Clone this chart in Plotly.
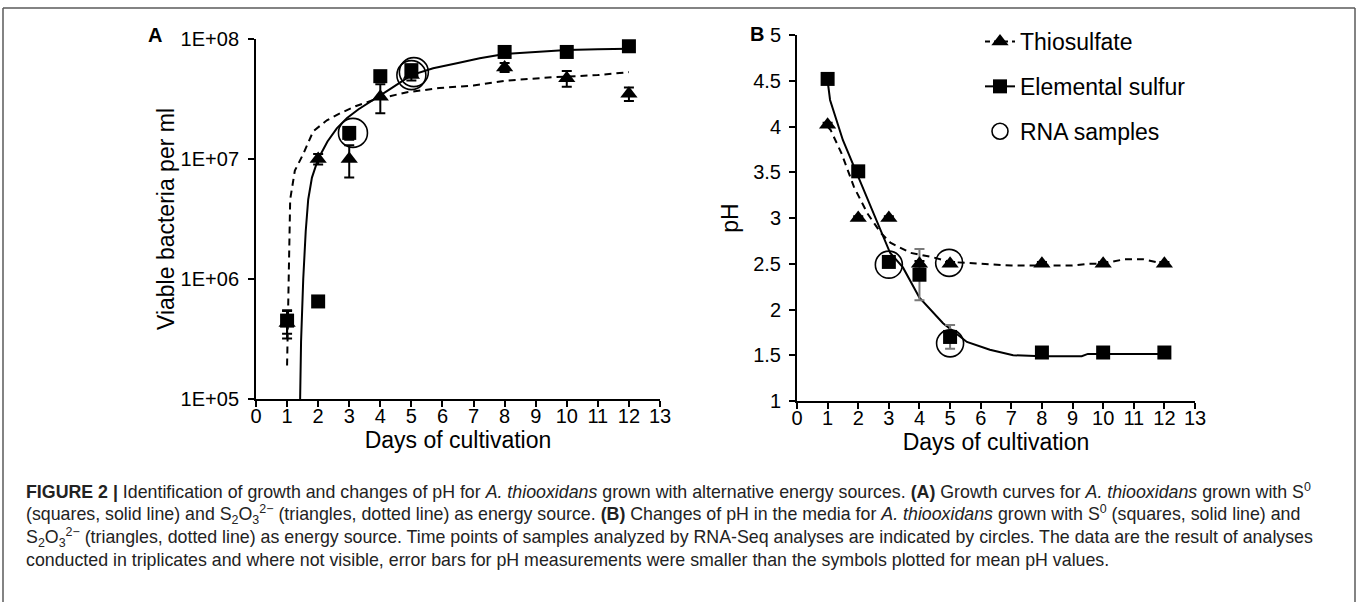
import plotly.graph_objects as go

# ---------------- data ----------------
days = [1, 2, 3, 4, 5, 8, 10, 12]

# Panel A: viable bacteria per ml
sulfur_cells = [4.5e5, 6.5e5, 1.65e7, 4.9e7, 5.5e7, 7.8e7, 7.8e7, 8.7e7]
sulfur_cells_err = [1.0e5, 0.6e5, 2.0e6, 3.0e6, 3.0e6, 3.0e6, 3.0e6, 3.0e6]
thio_cells = [4.3e5, 1.0e7, 1.0e7, 3.3e7, 5.0e7, 5.8e7, 4.7e7, 3.5e7]
thio_cells_err = [1.1e5, 1.0e6, 3.0e6, 9.0e6, 5.0e6, 5.0e6, 7.0e6, 4.5e6]

# trend curves
sulfur_fit_x = [1.42, 1.45, 1.52, 1.6, 1.68, 1.8, 2.0, 2.3, 2.6, 2.93, 3.3, 3.77, 4.3, 5.0,
                5.7, 6.5, 7.2, 8.0, 9.0, 10.0, 11.0, 12.0]
sulfur_fit_y = [1.0e5, 3.0e5, 1.0e6, 2.5e6, 4.6e6, 7.0e6, 1.0e7, 1.4e7, 1.8e7, 2.2e7, 2.6e7,
                3.1e7, 3.8e7, 5.0e7, 5.7e7, 6.3e7, 6.9e7, 7.5e7, 7.8e7, 8.1e7, 8.2e7, 8.3e7]
thio_fit_x = [1.0, 1.03, 1.06, 1.1, 1.25, 1.52, 1.84, 2.28, 2.7, 3.2, 3.77, 4.3, 4.86, 5.9,
              7.0, 8.07, 9.55, 11.0, 12.0]
thio_fit_y = [1.9e5, 5.0e5, 1.5e6, 4.6e6, 8.0e6, 1.1e7, 1.7e7, 2.1e7, 2.4e7, 2.75e7, 3.1e7,
              3.35e7, 3.6e7, 3.9e7, 4.1e7, 4.5e7, 4.8e7, 5.0e7, 5.3e7]

# RNA sample circles, panel A
rna_a_x = [3.12, 5.0, 5.08]
rna_a_y = [1.65e7, 5.0e7, 5.3e7]

# Panel B: pH
sulfur_ph = [4.52, 3.51, 2.52, 2.38, 1.70, 1.53, 1.53, 1.53]
sulfur_ph_err = [0.03, 0.03, 0.03, 0.28, 0.13, 0.02, 0.02, 0.02]
thio_ph = [4.02, 3.0, 3.0, 2.5, 2.5, 2.5, 2.5, 2.5]
thio_ph_err = [0.02, 0.02, 0.02, 0.03, 0.02, 0.02, 0.02, 0.02]

sulfur_ph_fit_x = [1.0, 1.08, 1.5, 2.06, 2.6, 3.04, 3.46, 4.0, 4.77, 5.55, 6.3, 7.06, 8.0,
                   9.3, 9.5, 10.0, 11.0, 12.0]
sulfur_ph_fit_y = [4.5, 4.29, 3.85, 3.41, 2.98, 2.62, 2.46, 2.13, 1.85, 1.645, 1.56, 1.50,
                   1.49, 1.49, 1.515, 1.515, 1.515, 1.515]
thio_ph_fit_x = [1.0, 1.1, 1.45, 1.86, 2.3, 2.73, 3.05, 3.7, 4.45, 5.0, 6.0, 7.0, 8.0, 9.0,
                 9.5, 10.0, 10.7, 11.3, 12.0]
thio_ph_fit_y = [4.0, 3.96, 3.71, 3.34, 3.05, 2.84, 2.73, 2.62, 2.57, 2.52, 2.5, 2.48, 2.48,
                 2.48, 2.5, 2.5, 2.55, 2.55, 2.5]

rna_b_x = [3.0, 4.97, 5.0]
rna_b_y = [2.49, 2.51, 1.63]

legend_names = ["Thiosulfate", "Elemental sulfur", "RNA samples"]

x_ticks = list(range(0, 14))
a_tickvals = [1e5, 1e6, 1e7, 1e8]
a_ticktext = ["1E+05", "1E+06", "1E+07", "1E+08"]
b_tickvals = [1, 1.5, 2, 2.5, 3, 3.5, 4, 4.5, 5]
b_ticktext = ["1", "1.5", "2", "2.5", "3", "3.5", "4", "4.5", "5"]

caption_lines = [
    "<b>FIGURE 2 |</b> Identification of growth and changes of pH for <i>A. thiooxidans</i> grown with "
    "alternative energy sources. <b>(A)</b> Growth curves for <i>A. thiooxidans</i> grown with S<sup>0</sup>",
    "(squares, solid line) and S<sub>2</sub>O<sub>3</sub><sup>2\u2212</sup> (triangles, dotted line) as energy "
    "source. <b>(B)</b> Changes of pH in the media for <i>A. thiooxidans</i> grown with S<sup>0</sup> "
    "(squares, solid line) and",
    "S<sub>2</sub>O<sub>3</sub><sup>2\u2212</sup> (triangles, dotted line) as energy source. Time points of "
    "samples analyzed by RNA-Seq analyses are indicated by circles. The data are the result of analyses",
    "conducted in triplicates and where not visible, error bars for pH measurements were smaller than "
    "the symbols plotted for mean pH values.",
]

# ---------------- figure ----------------
W, H = 1358, 602
FONT = "Liberation Sans, Arial, Helvetica, sans-serif"
BLACK = "#000000"
DASH = "7px,5px"

fig = go.Figure()

# ---- panel A ----
fig.add_trace(go.Scatter(x=thio_fit_x, y=thio_fit_y, mode="lines", xaxis="x", yaxis="y",
                         line=dict(color=BLACK, width=2, dash=DASH), showlegend=False,
                         hoverinfo="skip"))
fig.add_trace(go.Scatter(x=sulfur_fit_x, y=sulfur_fit_y, mode="lines", xaxis="x", yaxis="y",
                         line=dict(color=BLACK, width=2), showlegend=False, hoverinfo="skip"))
fig.add_trace(go.Scatter(x=days, y=thio_cells, mode="markers", xaxis="x", yaxis="y",
                         marker=dict(symbol="triangle-up", size=15, color=BLACK),
                         error_y=dict(type="data", array=thio_cells_err, color=BLACK,
                                      thickness=2, width=5),
                         showlegend=False))
fig.add_trace(go.Scatter(x=days, y=sulfur_cells, mode="markers", xaxis="x", yaxis="y",
                         marker=dict(symbol="square", size=14, color=BLACK),
                         error_y=dict(type="data", array=sulfur_cells_err, color=BLACK,
                                      thickness=2, width=5),
                         showlegend=False))
fig.add_trace(go.Scatter(x=rna_a_x, y=rna_a_y, mode="markers", xaxis="x", yaxis="y",
                         marker=dict(symbol="circle-open", size=29, color=BLACK,
                                     line=dict(width=1.6, color=BLACK)),
                         showlegend=False))

# ---- panel B ----
fig.add_trace(go.Scatter(x=thio_ph_fit_x, y=thio_ph_fit_y, mode="lines",
                         xaxis="x2", yaxis="y2", line=dict(color=BLACK, width=2, dash=DASH),
                         showlegend=False, hoverinfo="skip"))
fig.add_trace(go.Scatter(x=sulfur_ph_fit_x, y=sulfur_ph_fit_y, mode="lines",
                         xaxis="x2", yaxis="y2", line=dict(color=BLACK, width=2),
                         showlegend=False, hoverinfo="skip"))
fig.add_trace(go.Scatter(x=days, y=sulfur_ph, mode="markers", xaxis="x2", yaxis="y2",
                         marker=dict(symbol="square", size=14, color=BLACK),
                         error_y=dict(type="data", array=sulfur_ph_err, color="#7a7a7a",
                                      thickness=2, width=5),
                         showlegend=False))
fig.add_trace(go.Scatter(x=days, y=thio_ph, mode="markers", xaxis="x2", yaxis="y2",
                         marker=dict(symbol="triangle-up", size=15, color=BLACK),
                         error_y=dict(type="data", array=thio_ph_err, color=BLACK,
                                      thickness=2, width=5),
                         showlegend=False))
fig.add_trace(go.Scatter(x=rna_b_x, y=rna_b_y, mode="markers", xaxis="x2", yaxis="y2",
                         marker=dict(symbol="circle-open", size=27, color=BLACK,
                                     line=dict(width=1.6, color=BLACK)),
                         showlegend=False))

# ---- legend entries (no data drawn) ----
fig.add_trace(go.Scatter(x=[None], y=[None], mode="lines+markers", name=legend_names[0],
                         xaxis="x2", yaxis="y2", legendrank=1, legendgroup="g1",
                         line=dict(color=BLACK, width=2, dash="5px,4px"),
                         marker=dict(symbol="triangle-up", size=15, color=BLACK)))
fig.add_trace(go.Scatter(x=[None], y=[None], mode="lines+markers", name=legend_names[1],
                         xaxis="x2", yaxis="y2", legendrank=2, legendgroup="g2",
                         line=dict(color=BLACK, width=2),
                         marker=dict(symbol="square", size=14, color=BLACK)))
fig.add_trace(go.Scatter(x=[None], y=[None], mode="markers", name=legend_names[2],
                         xaxis="x2", yaxis="y2", legendrank=3, legendgroup="g3",
                         marker=dict(symbol="circle-open", size=27, color=BLACK,
                                     line=dict(width=1.6, color=BLACK))))

axis_common = dict(showline=True, linecolor=BLACK, linewidth=2, ticks="outside",
                   ticklen=6, tickwidth=2, tickcolor=BLACK, showgrid=False, zeroline=False,
                   tickfont=dict(family=FONT, size=20, color=BLACK), mirror=False,
                   automargin=False)

fig.update_layout(
    width=W, height=H,
    margin=dict(l=0, r=0, t=0, b=0, pad=0, autoexpand=False),
    paper_bgcolor="white", plot_bgcolor="white",
    font=dict(family=FONT, color=BLACK),
    xaxis=dict(domain=[256 / W, 660 / W], range=[0, 13], tickvals=x_ticks, anchor="y",
               ticklabelstandoff=-8,
               title=dict(text="Days of cultivation", font=dict(size=23), standoff=0),
               **axis_common),
    yaxis=dict(domain=[1 - 399 / H, 1 - 39 / H], type="log", range=[5, 8], anchor="x",
               tickvals=a_tickvals, ticktext=a_ticktext, ticklabelstandoff=5,
               title=dict(text="Viable bacteria per ml", font=dict(size=23), standoff=0),
               **axis_common),
    xaxis2=dict(domain=[797 / W, 1195 / W], range=[0, 13], tickvals=x_ticks, anchor="y2",
                ticklabelstandoff=-8,
                title=dict(text="Days of cultivation", font=dict(size=23), standoff=4),
                **axis_common),
    yaxis2=dict(domain=[1 - 401 / H, 1 - 35 / H], range=[1, 5], anchor="x2",
                tickvals=b_tickvals, ticktext=b_ticktext, ticklabelstandoff=4,
                title=dict(text="pH", font=dict(size=23), standoff=8),
                **axis_common),
    legend=dict(x=980 / W, y=1 - 20 / H, xanchor="left", yanchor="top",
                font=dict(family=FONT, size=23, color=BLACK),
                bgcolor="rgba(0,0,0,0)", itemsizing="trace", tracegroupgap=12,
                traceorder="grouped"),
    showlegend=True,
)

# panel letters
fig.add_annotation(text="<b>A</b>", x=155 / W, y=1 - 35 / H, xref="paper", yref="paper",
                   showarrow=False, font=dict(family=FONT, size=20, color=BLACK),
                   xanchor="center", yanchor="middle")
fig.add_annotation(text="<b>B</b>", x=757 / W, y=1 - 34 / H, xref="paper", yref="paper",
                   showarrow=False, font=dict(family=FONT, size=20, color=BLACK),
                   xanchor="center", yanchor="middle")

# caption
cap_y = [491, 514, 537, 560]
for line, yy in zip(caption_lines, cap_y):
    fig.add_annotation(text=line, x=24 / W, y=1 - yy / H, xref="paper", yref="paper",
                       showarrow=False, xanchor="left", yanchor="middle", align="left",
                       font=dict(family=FONT, size=17.8, color="#222222"))

# frame
frame = dict(color="#5a5a5a", width=1.5)
fig.add_shape(type="line", xref="paper", yref="paper", x0=3 / W, x1=1355 / W,
              y0=1 - 8 / H, y1=1 - 8 / H, line=frame)
fig.add_shape(type="line", xref="paper", yref="paper", x0=3 / W, x1=3 / W,
              y0=0, y1=1 - 8 / H, line=frame)
fig.add_shape(type="line", xref="paper", yref="paper", x0=1355 / W, x1=1355 / W,
              y0=0, y1=1 - 8 / H, line=frame)

fig.write_html("out.html")
